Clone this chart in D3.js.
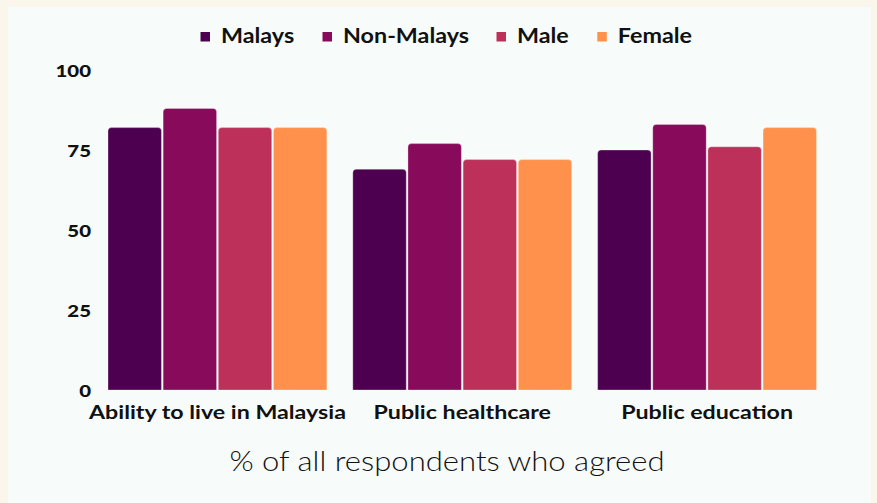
<!DOCTYPE html>
<html>
<head>
<meta charset="utf-8">
<script src="https://cdn.jsdelivr.net/npm/d3@7"></script>
<style>
  html, body { margin: 0; padding: 0; background: #faf6ec; }
  svg { display: block; }
  text { font-family: Lato, "Open Sans", sans-serif; fill: #111; }
</style>
</head>
<body>
<svg id="chart" width="877" height="503"></svg>
<script>
// data
var categories = ["Ability to live in Malaysia", "Public healthcare", "Public education"];
var seriesNames = ["Malays", "Non-Malays", "Male", "Female"];
var malays    = [82, 69, 75];
var nonMalays = [88, 77, 83];
var male      = [82, 72, 76];
var female    = [82, 72, 82];
var yTicks = [0, 25, 50, 75, 100];
var colors = ["#4c004f", "#880a5a", "#bc3059", "#ff914d"];

var values = [malays, nonMalays, male, female];
var rows = categories.map(function (c, i) {
  return { cat: c, vals: seriesNames.map(function (s, j) { return { key: s, value: values[j][i] }; }) };
});

var svg = d3.select("#chart"),
    width = +svg.attr("width"),
    height = +svg.attr("height");

// Lato is narrower than the original's font, so widen text a bit
function stretch(sel, f) {
  sel.each(function () {
    var len = this.getComputedTextLength();
    d3.select(this)
      .attr("textLength", len * f)
      .attr("lengthAdjust", "spacingAndGlyphs");
  });
}

// inner panel
svg.append("rect")
  .attr("x", 8).attr("y", 7)
  .attr("width", 863).attr("height", height)
  .attr("fill", "#f7fcfa");

var x0 = d3.scaleBand()
  .domain(categories)
  .range([108, 816.5])
  .paddingInner(0.106)
  .paddingOuter(0);

var x1 = d3.scaleBand()
  .domain(seriesNames)
  .range([0, x0.bandwidth()])
  .paddingInner(0.031);

var y = d3.scaleLinear()
  .domain([0, 100])
  .range([390, 70]);

var color = d3.scaleOrdinal().domain(seriesNames).range(colors);

// bar with rounded top corners
function topRounded(x, yTop, w, h, r) {
  r = Math.min(r, h, w / 2);
  return "M" + x + "," + (yTop + h) +
    "V" + (yTop + r) +
    "Q" + x + "," + yTop + " " + (x + r) + "," + yTop +
    "H" + (x + w - r) +
    "Q" + (x + w) + "," + yTop + " " + (x + w) + "," + (yTop + r) +
    "V" + (yTop + h) + "Z";
}

var groups = svg.append("g")
  .selectAll("g")
  .data(rows)
  .enter().append("g")
  .attr("transform", function (d) { return "translate(" + x0(d.cat) + ",0)"; });

groups.selectAll("path")
  .data(function (d) { return d.vals; })
  .enter().append("path")
  .attr("d", function (d) {
    return topRounded(x1(d.key), y(d.value), x1.bandwidth(), y(0) - y(d.value), 3.5);
  })
  .attr("fill", function (d) { return color(d.key); })
  .attr("stroke", "#fff")
  .attr("stroke-opacity", 0.5)
  .attr("stroke-width", 0.6);

// y axis
var yAxis = d3.axisLeft(y)
  .tickValues(yTicks)
  .tickSize(0)
  .tickPadding(0)
  .tickFormat(d3.format("d"));

var yg = svg.append("g")
  .attr("transform", "translate(91,1.5)")
  .call(yAxis);
yg.select(".domain").remove();
yg.selectAll("text")
  .style("font-family", "Lato, sans-serif")
  .style("font-size", "17px")
  .style("font-weight", "900")
  .attr("fill", "#111")
  .call(stretch, 1.2);

// x axis
var xAxis = d3.axisBottom(x0).tickSize(0).tickPadding(0);
var xg = svg.append("g")
  .attr("transform", "translate(0,405)")
  .call(xAxis);
xg.select(".domain").remove();
xg.selectAll("text")
  .style("font-family", "Lato, sans-serif")
  .style("font-size", "19.5px")
  .style("font-weight", "700")
  .attr("fill", "#111")
  .call(stretch, 1.19);

// legend
var legendX = [200.5, 322.5, 496.5, 597.3];
var legend = svg.append("g");
var items = legend.selectAll("g")
  .data(seriesNames)
  .enter().append("g")
  .attr("transform", function (d, i) { return "translate(" + legendX[i] + ",32)"; });
items.append("rect")
  .attr("width", 9.5).attr("height", 9.5)
  .attr("fill", function (d) { return color(d); });
items.append("text")
  .attr("x", 20.5)
  .attr("y", 11.3)
  .style("font-size", "21px")
  .style("font-weight", "700")
  .text(function (d) { return d; })
  .call(stretch, 1.11);

// caption
svg.append("text")
  .attr("x", 447)
  .attr("y", 471)
  .attr("text-anchor", "middle")
  .style("font-size", "27px")
  .style("font-weight", "300")
  .attr("fill", "#222")
  .text("% of all respondents who agreed")
  .call(stretch, 1.15);
</script>
</body>
</html>
